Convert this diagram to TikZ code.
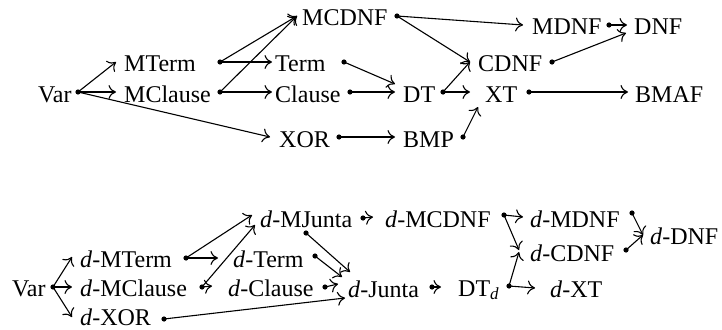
\documentclass[tikz,border=0pt]{standalone}
\usepackage{fontspec}
\setmainfont{Liberation Serif}
\usetikzlibrary{arrows.meta}
\tikzset{
  lbl/.style={inner sep=0pt, anchor=west, text height=18pt, text depth=0pt, font=\fontsize{24}{28}\selectfont},
  dot/.style={circle, fill=black, inner sep=0pt, minimum size=5.2pt},
  arr/.style={line width=1.1pt, -{Computer Modern Rightarrow[length=7.5pt,width=14pt,line width=1.1pt]}},
}
\newcommand{\dd}{\textit{d}}
\begin{document}
\begin{tikzpicture}[x=1pt,y=-1pt]
\useasboundingbox (0,0) rectangle (722,329);
% ---------- top diagram: labels ----------
\node[lbl] (Var) at (38,93) {Var};
\node[lbl] (MTerm) at (124,62) {MTerm};
\node[lbl] (MClause) at (124,93) {MClause};
\node[lbl] (Term) at (275,62) {Term};
\node[lbl] (Clause) at (275,93) {Clause};
\node[lbl] (XOR) at (279,138) {XOR};
\node[lbl] (MCDNF) at (302,17) {MCDNF};
\node[lbl] (DT) at (403,93) {DT};
\node[lbl] (BMP) at (403,138) {BMP};
\node[lbl] (MDNF) at (532,26) {MDNF};
\node[lbl] (DNF) at (634,26) {DNF};
\node[lbl] (CDNF) at (478,62) {CDNF};
\node[lbl] (XT) at (485,93) {XT};
\node[lbl] (BMAF) at (635,93) {BMAF};
% dots
\node[dot] (Var-o) at (78,92) {};
\node[dot] (MTerm-o) at (220,62) {};
\node[dot] (MClause-o) at (220,92) {};
\node[dot] (Term-o) at (344,62) {};
\node[dot] (Clause-o) at (350,92) {};
\node[dot] (XOR-o) at (339,137) {};
\node[dot] (MCDNF-o) at (397,16) {};
\node[dot] (DT-o) at (443,92) {};
\node[dot] (BMP-o) at (463,137) {};
\node[dot] (MDNF-o) at (609,25) {};
\node[dot] (CDNF-o) at (552,62) {};
\node[dot] (XT-o) at (529,92) {};
% connectors
\draw[arr] (Var-o.center) -- ([shift={(-8,0)}]MTerm.west);
\draw[arr] (Var-o.center) -- ([shift={(-8,-1)}]MClause.west);
\draw[arr] (Var-o.center) -- ([shift={(-9,-1)}]XOR.west);
\draw[arr] (MTerm-o.center) -- ([shift={(-5,-1)}]MCDNF.west);
\draw[arr] (MTerm-o.center) -- ([shift={(-3,0)}]Term.west);
\draw[arr] (MClause-o.center) -- ([shift={(-5,-1)}]MCDNF.west);
\draw[arr] (MClause-o.center) -- ([shift={(-3,-1)}]Clause.west);
\draw[arr] (Term-o.center) -- ([shift={(-8,-9)}]DT.west);
\draw[arr] (Clause-o.center) -- ([shift={(-8,-1)}]DT.west);
\draw[arr] (XOR-o.center) -- ([shift={(-8,-1)}]BMP.west);
\draw[arr] (MCDNF-o.center) -- ([shift={(-9,-1)}]MDNF.west);
\draw[arr] (MCDNF-o.center) -- ([shift={(-8,0)}]CDNF.west);
\draw[arr] (DT-o.center) -- ([shift={(-8,0)}]CDNF.west);
\draw[arr] (DT-o.center) -- ([shift={(-15,-1)}]XT.west);
\draw[arr] (BMP-o.center) -- ([shift={(-7,14)}]XT.west);
\draw[arr] (MDNF-o.center) -- ([shift={(-7,-1)}]DNF.west);
\draw[arr] (CDNF-o.center) -- ([shift={(-8,7)}]DNF.west);
\draw[arr] (XT-o.center) -- ([shift={(-7,-1)}]BMAF.west);
% ---------- bottom diagram: labels ----------
\node[lbl] (Var2) at (12,287) {Var};
\node[lbl] (dMTerm) at (80,258) {\dd-MTerm};
\node[lbl] (dMClause) at (80,287) {\dd-MClause};
\node[lbl] (dXOR) at (80,316) {\dd-XOR};
\node[lbl] (dMJunta) at (260,218) {\dd-MJunta};
\node[lbl] (dTerm) at (233,258) {\dd-Term};
\node[lbl] (dClause) at (228,287) {\dd-Clause};
\node[lbl] (dJunta) at (348,288) {\dd-Junta};
\node[lbl] (dMCDNF) at (385,218) {\dd-MCDNF};
\node[lbl] (DTd) at (458,287) {DT\raisebox{-0.35ex}{\fontsize{17}{17}\selectfont\dd}};
\node[lbl] (dMDNF) at (530,218) {\dd-MDNF};
\node[lbl] (dCDNF) at (530,252) {\dd-CDNF};
\node[lbl] (dXT) at (550,288) {\dd-XT};
\node[lbl] (dDNF) at (650,235) {\dd-DNF};
% dots
\node[dot] (Var2-o) at (53,287) {};
\node[dot] (dMTerm-o) at (186,258) {};
\node[dot] (dMClause-o) at (202,287) {};
\node[dot] (dXOR-o) at (164,319) {};
\node[dot] (dMJunta-o) at (363,218) {};
\node[dot] (dMJunta-b) at (306,233) {};
\node[dot] (dTerm-o) at (315,256) {};
\node[dot] (dClause-o) at (325,287) {};
\node[dot] (dJunta-o) at (432,287) {};
\node[dot] (dMCDNF-o) at (504,215) {};
\node[dot] (DTd-o) at (509,286) {};
\node[dot] (dMDNF-o) at (632,213) {};
\node[dot] (dCDNF-o) at (626,250) {};
% connectors
\draw[arr] (Var2-o.center) -- ([shift={(-8,-1)}]dMTerm.west);
\draw[arr] (Var2-o.center) -- ([shift={(-8,0)}]dMClause.west);
\draw[arr] (Var2-o.center) -- ([shift={(-8,1)}]dXOR.west);
\draw[arr] (dMTerm-o.center) -- ([shift={(-8,-3)}]dMJunta.west);
\draw[arr] (dMTerm-o.center) -- ([shift={(-15,0)}]dTerm.west);
\draw[arr] (dMClause-o.center) -- ([shift={(-5,7)}]dMJunta.west);
\draw[arr] (dMClause-o.center) -- ([shift={(-16,-1)}]dClause.west);
\draw[arr] (dTerm-o.center) -- ([shift={(-6,-11)}]dJunta.west);
\draw[arr] (dMJunta-b.center) -- ([shift={(2,-16)}]dJunta.west);
\draw[arr] (dClause-o.center) -- ([shift={(-10,-4)}]dJunta.west);
\draw[arr] (dXOR-o.center) -- ([shift={(-3,10)}]dJunta.west);
\draw[arr] (dMJunta-o.center) -- ([shift={(-12,-1)}]dMCDNF.west);
\draw[arr] (dJunta-o.center) -- ([shift={(-17,0)}]DTd.west);
\draw[arr] (dMCDNF-o.center) -- ([shift={(-7,-1)}]dMDNF.west);
\draw[arr] (dMCDNF-o.center) -- ([shift={(-11,-2)}]dCDNF.west);
\draw[arr] (DTd-o.center) -- ([shift={(-11,0)}]dCDNF.west);
\draw[arr] (DTd-o.center) -- ([shift={(-15,0)}]dXT.west);
\draw[arr] (dMDNF-o.center) -- ([shift={(-7,0)}]dDNF.west);
\draw[arr] (dCDNF-o.center) -- ([shift={(-7,0)}]dDNF.west);
\end{tikzpicture}
\end{document}
